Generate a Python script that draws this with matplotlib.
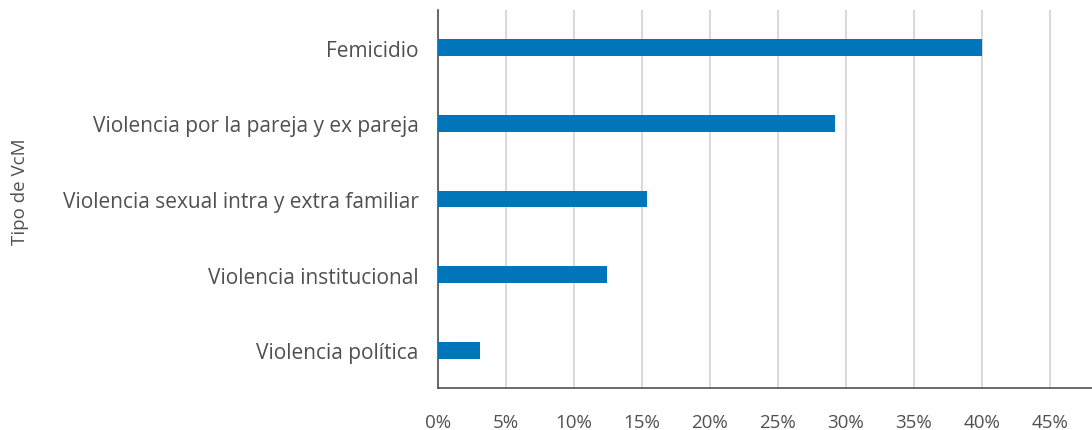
import numpy as np
from matplotlib import pyplot as plt

# datos
categorias = ["Femicidio",
              "Violencia por la pareja y ex pareja",
              "Violencia sexual intra y extra familiar",
              "Violencia institucional",
              "Violencia política"]
porcentajes = [40.0, 29.2, 15.4, 12.4, 3.1]
ticks_x = [0, 5, 10, 15, 20, 25, 30, 35, 40, 45]

gris = "#505050"
azul = "#0075b9"

plt.rcParams['font.family'] = ['Open Sans', 'DejaVu Sans']

fig = plt.figure(figsize=(10.92, 4.31), dpi=100)
ax = fig.add_axes([438 / 1092, 42 / 431, 1 - 438 / 1092, 378 / 431])

y = np.arange(len(categorias))
ax.barh(y, porcentajes, height=0.22, color=azul, zorder=3)

ax.set_ylim(len(categorias) - 0.5, -0.5)
ax.set_xlim(0, 48.1)
ax.set_yticks(y)
ax.set_yticklabels(categorias, fontsize=15, color=gris)
ax.set_xticks(ticks_x)
ax.set_xticklabels([f"{t}%" for t in ticks_x], fontsize=13.5, color=gris)
ax.tick_params(axis='y', length=0, pad=14)
ax.tick_params(axis='x', length=0, pad=18)

ax.grid(axis='x', color="#d0d0d0", linewidth=1.1, zorder=0)
for lado in ["top", "right"]:
    ax.spines[lado].set_visible(False)
for lado in ["left", "bottom"]:
    ax.spines[lado].set_color(gris)
    ax.spines[lado].set_linewidth(1.2)

fig.text(20.5 / 1092, 1 - 192 / 431, "Tipo de VcM", rotation=90, fontsize=13.5,
         color=gris, ha='center', va='center')

plt.savefig("out.png", dpi=100)
